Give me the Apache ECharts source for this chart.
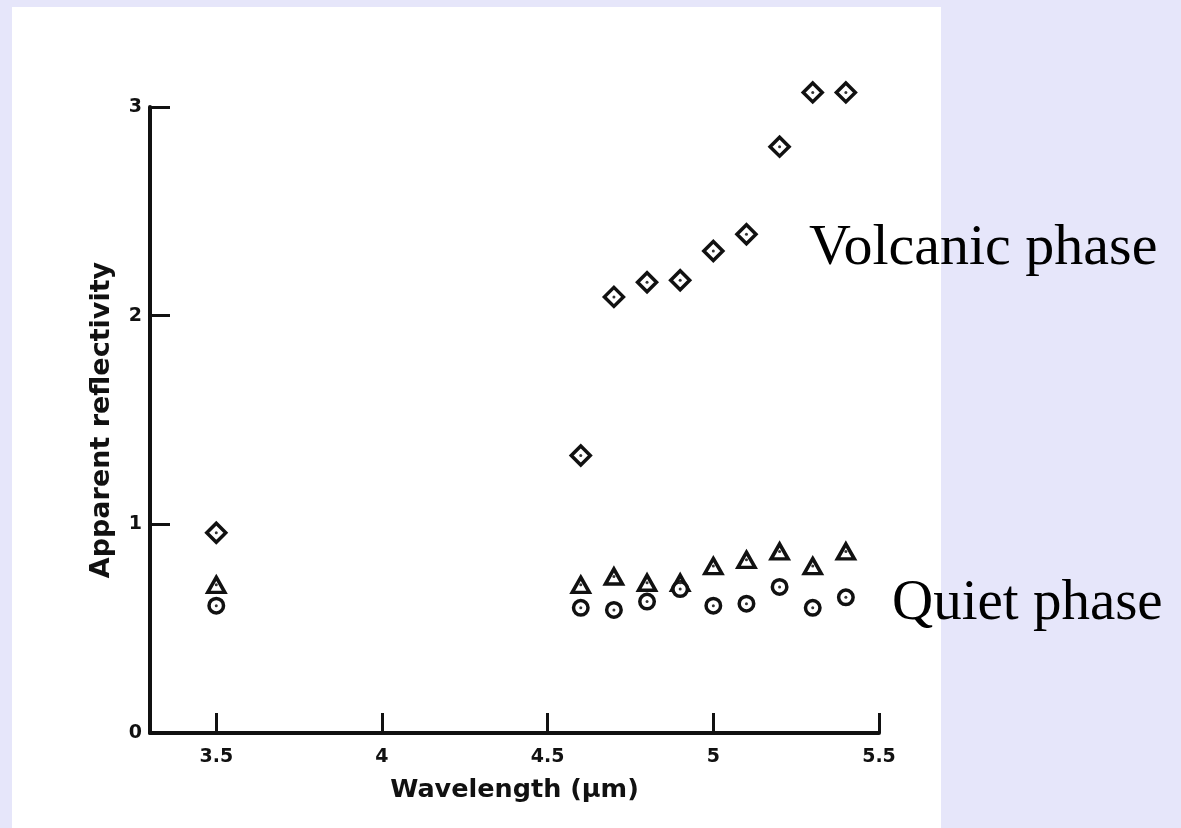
<!DOCTYPE html>
<html>
<head>
<meta charset="utf-8">
<title>Apparent reflectivity</title>
<script src="https://cdn.jsdelivr.net/npm/echarts@6/dist/echarts.min.js"></script>
<style>
    html, body {margin: 0; padding: 0; background: #e6e6fa}
    #chart {width: 1181px; height: 828px}
</style>
</head>
<body>
<div id="chart"></div>
<script>
// values
const wavelengths = [3.5, 4.6, 4.7, 4.8, 4.9, 5.0, 5.1, 5.2, 5.3, 5.4]
const volcanic = [0.96, 1.33, 2.09, 2.16, 2.17, 2.31, 2.39, 2.81, 3.07, 3.07]
const quietTriangles = [0.71, 0.71, 0.75, 0.72, 0.72, 0.80, 0.83, 0.87, 0.80, 0.87]
const quietCircles = [0.61, 0.60, 0.59, 0.63, 0.69, 0.61, 0.62, 0.70, 0.60, 0.65]
const xTicks = [3.5, 4, 4.5, 5, 5.5]

const ink = "#111"
const axisFont = "DejaVu Sans"

const pairs = (ys) => wavelengths.map((x, i) => [x, ys[i]])

const marker = (name, symbol, size, ys) => ({
    name,
    type: "scatter",
    symbol,
    symbolSize: size,
    clip: false,
    data: pairs(ys),
    itemStyle: {color: "#fff", borderColor: ink, borderWidth: 3.5, opacity: 1}
})

const dots = (ys) => ({
    type: "scatter",
    symbolSize: 3,
    clip: false,
    silent: true,
    z: 3,
    data: pairs(ys),
    itemStyle: {color: "#333", opacity: 1}
})

const labelStyle = {fontFamily: axisFont, fontWeight: "bold", fontSize: 19, color: ink}

const option = {
    animation: false,
    backgroundColor: "transparent",
    graphic: [
        {type: "rect", z: -10, silent: true, shape: {x: 12, y: 7, width: 929, height: 821}, style: {fill: "#fff"}},
        {
            type: "text", x: 809, y: 249, silent: true,
            style: {text: "Volcanic phase", font: "58px 'Liberation Serif'", fill: "#000", align: "left", verticalAlign: "middle"}
        },
        {
            type: "text", x: 892, y: 604, silent: true,
            style: {text: "Quiet phase", font: "57px 'Liberation Serif'", fill: "#000", align: "left", verticalAlign: "middle"}
        }
    ],
    grid: {left: 150, right: 302, top: 107, bottom: 95, containLabel: false, outerBoundsMode: "none"},
    xAxis: {
        type: "value",
        min: 3.3,
        max: 5.5,
        name: "Wavelength (µm)",
        nameLocation: "middle",
        nameGap: 44,
        nameTextStyle: {fontFamily: axisFont, fontWeight: "bold", fontSize: 25.5, color: ink},
        axisLine: {show: true, onZero: false, lineStyle: {color: ink, width: 4}},
        axisTick: {show: true, inside: true, length: 20, customValues: xTicks, lineStyle: {color: ink, width: 3}},
        axisLabel: {...labelStyle, customValues: xTicks, margin: 15, formatter: (v) => String(v)},
        splitLine: {show: false}
    },
    yAxis: {
        type: "value",
        min: 0,
        max: 3,
        interval: 1,
        name: "Apparent reflectivity",
        nameLocation: "middle",
        nameRotate: 90,
        nameGap: 35,
        nameTextStyle: {fontFamily: axisFont, fontWeight: "bold", fontSize: 27, color: ink},
        axisLine: {show: true, onZero: false, lineStyle: {color: ink, width: 4}},
        axisTick: {show: true, inside: true, length: 20, lineStyle: {color: ink, width: 3}},
        axisLabel: {...labelStyle, margin: 8},
        splitLine: {show: false}
    },
    series: [
        marker("Quiet (triangles)", "triangle", [17, 15], quietTriangles),
        marker("Quiet (circles)", "circle", 14.5, quietCircles),
        marker("Volcanic", "diamond", 19, volcanic),
        dots(quietTriangles),
        dots(quietCircles),
        dots(volcanic)
    ]
}

const chart = echarts.init(document.getElementById("chart"))
chart.setOption(option)
</script>
</body>
</html>
